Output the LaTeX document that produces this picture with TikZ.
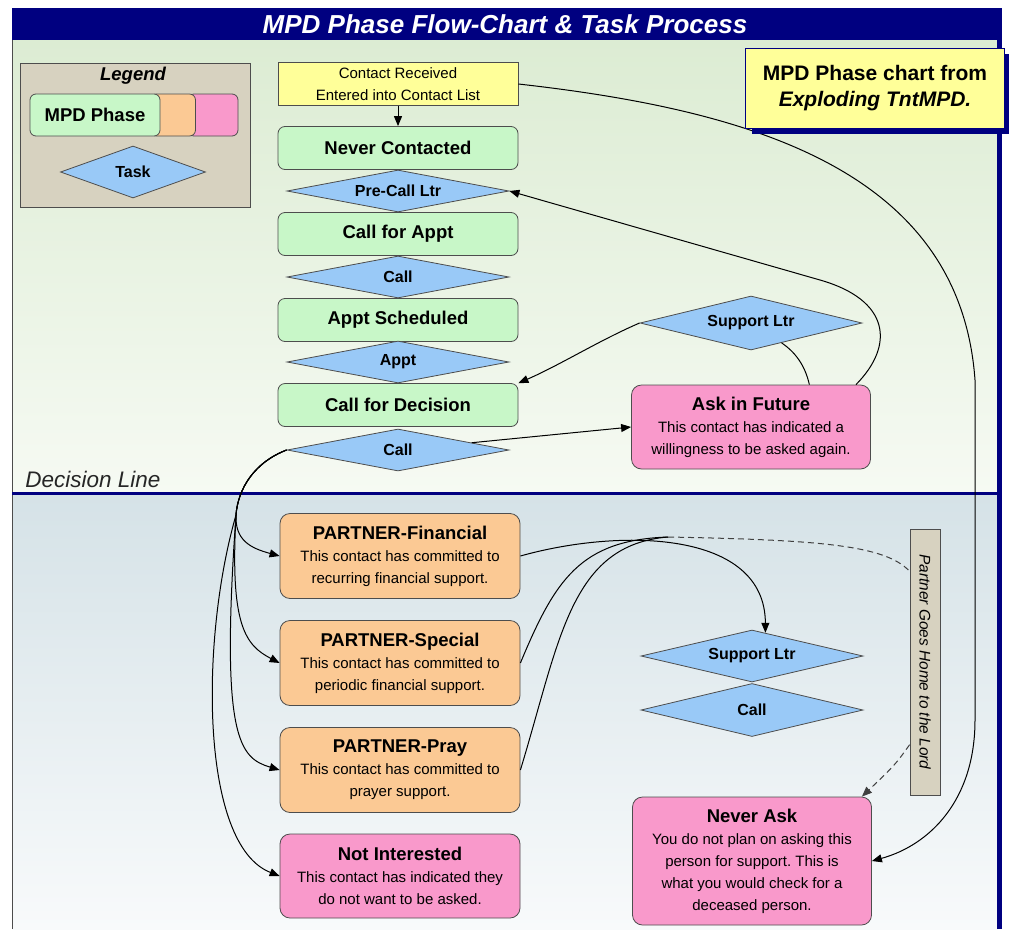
\documentclass[tikz,border=0pt]{standalone}
\usepackage{fontspec}
\setmainfont{Liberation Sans}
\usetikzlibrary{shapes.geometric,arrows.meta,calc,shadows}
\frenchspacing

\definecolor{framenavy}{HTML}{000080}
\definecolor{edgegray}{HTML}{4D4D4D}
\definecolor{phasegreen}{HTML}{C8F7C8}
\definecolor{taskblue}{HTML}{99C9F7}
\definecolor{partnerorange}{HTML}{FBC994}
\definecolor{askpink}{HTML}{F999CB}
\definecolor{noteyellow}{HTML}{FFFF99}
\definecolor{legendtan}{HTML}{D7D2C0}

\tikzset{
  phase/.style={draw=edgegray, fill=phasegreen, rounded corners=7pt, minimum width=240pt,
    minimum height=43pt, inner sep=0pt, font=\fontsize{18.5}{22}\selectfont\bfseries},
  task/.style={diamond, aspect=5.3, draw=edgegray, fill=taskblue, minimum width=222pt, minimum height=42pt,
    inner sep=0pt, font=\fontsize{16}{18}\selectfont\bfseries},
  card/.style={draw=edgegray, rounded corners=10pt, minimum width=240pt, inner sep=0pt,
    align=center, font=\fontsize{15}{22}\selectfont},
  flow/.style={-{Triangle[length=10pt,width=8pt]}},
  hint/.style={dash pattern=on 6pt off 4pt},
}
\newcommand\cardtitle[1]{{\fontsize{18.5}{22}\selectfont\bfseries #1}}

\begin{document}
\begin{tikzpicture}[x=1pt, y=-1pt, line width=0.8pt]
    \useasboundingbox (0,0) rectangle (1009,929);

    % Background bands
    \shade[top color={rgb,255:red,220;green,236;blue,211}, bottom color={rgb,255:red,246;green,250;blue,243}] (12,40) rectangle (998,493);
    \shade[top color={rgb,255:red,213;green,226;blue,231}, bottom color={rgb,255:red,248;green,250;blue,251}] (12,493) rectangle (998,929);

    % Frame and decision line
    \draw[black!70] (12,8) -- (12,929);
    \fill[framenavy] (997,8) rectangle (1002,929);
    \draw[framenavy, line width=3pt] (12,493) -- (998,493);
    \node[anchor=south west, inner sep=0pt, text=black!85, font=\fontsize{22.5}{24}\selectfont\itshape] (decisionlabel) at (25,488) {Decision Line};

    % Title bar
    \node[fill=framenavy, minimum width=986pt, minimum height=32pt, inner sep=0pt, text=white,
      font=\fontsize{26}{28}\selectfont\bfseries\itshape] (title) at (505,24) {MPD Phase Flow-Chart \& Task Process};

    % Legend
    \node[draw=edgegray, fill=legendtan, minimum width=230pt, minimum height=144pt, inner sep=0pt] (legend) at (135,135) {};
    \node[font=\fontsize{18.5}{20}\selectfont\bfseries\itshape] (legendtitle) at (133,76) {Legend};
    \node[draw=edgegray, fill=askpink, rounded corners=6pt, minimum width=50pt, minimum height=42pt] (legendpink) at (213,115) {};
    \node[draw=edgegray, fill=partnerorange, rounded corners=6pt, minimum width=45pt, minimum height=42pt] (legendorange) at (173,115) {};
    \node[phase, minimum width=130pt, minimum height=42pt, rounded corners=6pt] (legendphase) at (95,115) {MPD Phase};
    \node[task, aspect=2.8, minimum width=145pt, minimum height=52pt] (legendtask) at (133,172) {Task};

    % Phase column
    \node[draw=edgegray, fill=noteyellow, minimum width=240pt, minimum height=43pt, inner sep=0pt,
      align=center, font=\fontsize{15}{22}\selectfont] (contact) at (398,84) {Contact Received\\Entered into Contact List};
    \node[phase] (never) at (398,148) {Never Contacted};
    \node[task] (precall) at (398,191) {Pre-Call Ltr};
    \node[phase] (callappt) at (398,234) {Call for Appt};
    \node[task] (call1) at (398,277) {Call};
    \node[phase] (sched) at (398,320) {Appt Scheduled};
    \node[task] (appt) at (398,362) {Appt};
    \node[phase] (decision) at (398,405) {Call for Decision};
    \node[task] (call2) at (398,450) {Call};

    % Ask in Future branch
    \node[card, fill=askpink, minimum width=239pt, minimum height=84pt] (ask) at (751,427)
      {\cardtitle{Ask in Future}\\This contact has indicated a\\willingness to be asked again.};
    \node[task, aspect=4.1, minimum height=54pt] (sup1) at (751,323) {Support Ltr};

    % Outcome cards
    \node[card, fill=partnerorange, minimum height=85pt] (fin) at (400,556)
      {\cardtitle{PARTNER-Financial}\\This contact has committed to\\recurring financial support.};
    \node[card, fill=partnerorange, minimum height=85pt] (spec) at (400,663)
      {\cardtitle{PARTNER-Special}\\This contact has committed to\\periodic financial support.};
    \node[card, fill=partnerorange, minimum height=85pt] (pray) at (400,770)
      {\cardtitle{PARTNER-Pray}\\This contact has committed to\\prayer support.};
    \node[card, fill=askpink, minimum height=84pt] (notint) at (400,876)
      {\cardtitle{Not Interested}\\This contact has indicated they\\do not want to be asked.};
    \node[card, fill=askpink, minimum width=239pt, minimum height=128pt] (neverask) at (752,861)
      {\cardtitle{Never Ask}\\You do not plan on asking this\\person for support. This is\\what you would check for a\\deceased person.};

    \node[task, aspect=4.3, minimum height=52pt] (sup2) at (752,656) {Support Ltr};
    \node[task, aspect=4.2, minimum height=53pt] (call3) at (752,710) {Call};

    \node[draw=edgegray, fill=legendtan, rotate=-90, minimum width=266pt, minimum height=30pt, inner sep=0pt,
      font=\fontsize{15.4}{16}\selectfont\itshape] (home) at (925,662) {Partner Goes Home to the Lord};
    \coordinate (homein) at ($(home.south west)!0.16!(home.south east)$);
    \coordinate (homeout) at ($(home.south west)!0.81!(home.south east)$);
    \coordinate (join) at (668,537);
    \coordinate (trunk) at (236,515);

    % Connectors, upper part
    \begin{scope}[line width=1pt]
    \draw[flow] (contact) -- (never);
    \draw[flow] (call2) -- (ask.west);
    \draw[flow] (sup1.west) .. controls (600,340) and (560,365) .. (decision.north east);
    \draw (ask.36) .. controls (805,365) and (795,352) .. (sup1.-33);
    \draw[flow] (ask.22) .. controls (895,345) and (890,300) .. (820,280) -- (precall.east);
    \draw[flow] (contact.east) .. controls (750,110) and (960,170) .. (975,380) -- (975,720)
      .. controls (975,800) and (930,845) .. (neverask.east);

    % Connectors, decision fan
    \draw[flow] (call2.west) .. controls (255,462) and (238,488) .. (trunk) .. controls (235,540) and (250,548) .. (fin.west);
    \draw[flow] (call2.west) .. controls (255,462) and (238,488) .. (trunk) .. controls (230,625) and (245,645) .. (spec.west);
    \draw[flow] (call2.west) .. controls (255,462) and (238,488) .. (trunk) .. controls (220,740) and (240,758) .. (pray.west);
    \draw[flow] (call2.west) .. controls (255,462) and (238,488) .. (trunk) .. controls (200,640) and (200,845) .. (notint.west);

    % Connectors, partner follow-up
    \draw[flow] (fin.east) .. controls (620,528) and (765,530) .. (sup2.60);
    \draw (spec.east) .. controls (555,580) and (580,540) .. (join);
    \draw (pray.east) .. controls (560,640) and (570,545) .. (join);
    \draw[hint, black!75] (join) .. controls (820,540) and (885,545) .. (homein);
    \draw[hint, black!75, flow] (homeout) .. controls (895,765) .. ([xshift=-10pt]neverask.north east);
    \end{scope}

    % Note
    \node[draw=framenavy, fill=noteyellow, minimum width=259pt, minimum height=80pt, inner sep=0pt, align=center,
      font=\fontsize{21}{26}\selectfont\bfseries,
      drop shadow={shadow xshift=6pt, shadow yshift=-6pt, fill=framenavy, opacity=1}] (note) at (875,88)
      {MPD Phase chart from\\\textit{Exploding TntMPD.}};
\end{tikzpicture}
\end{document}
